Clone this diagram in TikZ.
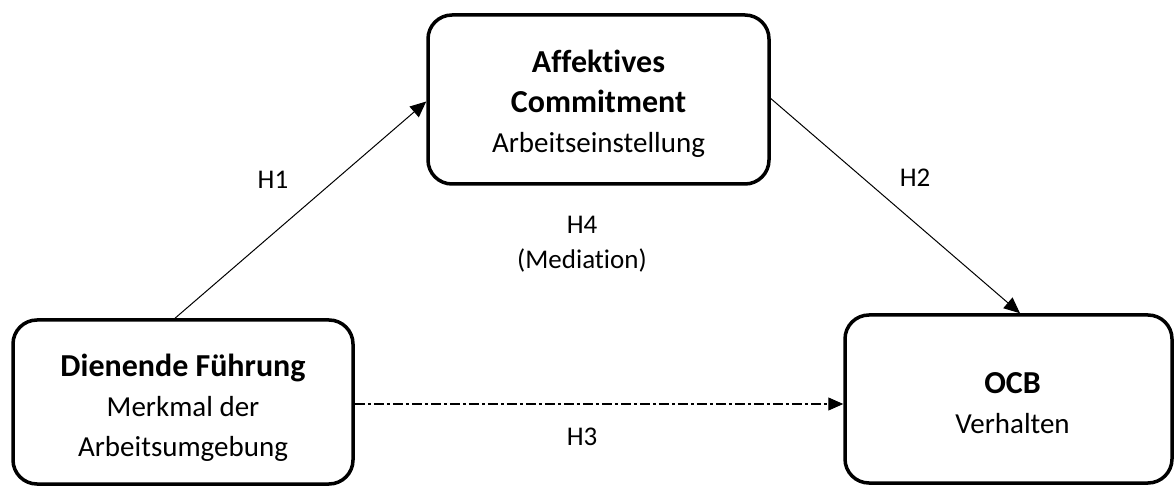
\documentclass[tikz,border=0pt]{standalone}
\usepackage{fontspec}
\setmainfont[Ligatures={NoCommon}]{Carlito}
\usetikzlibrary{arrows.meta}
\newcommand{\hd}[1]{{\fontsize{32}{40}\selectfont\bfseries #1}}
\begin{document}
\begin{tikzpicture}[x=1pt,y=-1pt,
  box/.style={draw=black,line width=3.5pt,rounded corners=24pt,inner sep=0pt},
  boxtext/.style={align=center,inner sep=0pt,font=\fontsize{29}{40}\selectfont},
  conn/.style={line width=1pt,-{Triangle[length=16pt,width=14pt]}},
  dashdot/.style={line width=1.2pt,dash pattern=on 10pt off 3pt on 3pt off 3pt},
  lbl/.style={font=\fontsize{27}{35}\selectfont,align=center,inner sep=0pt}]
\useasboundingbox (0,0) rectangle (1176,486);
\node[box,minimum width=341pt,minimum height=169pt] (tb) at (598.5,99.5) {};
\node[boxtext] (tbt) at ([yshift=-4pt]tb.center)
  {\hd{Affektives}\\\hd{Commitment}\\Arbeitseinstellung};
\node[box,minimum width=340pt,minimum height=164pt] (lb) at (183,402) {};
\node[boxtext] (lbt) at ([yshift=-6pt]lb.center)
  {\hd{Dienende Führung}\\Merkmal der\\Arbeitsumgebung};
\node[box,minimum width=327pt,minimum height=168pt] (ob) at (1008.5,399) {};
\node[boxtext] (obt) at ([xshift=4pt,yshift=-4pt]ob.center)
  {\hd{OCB}\\Verhalten};
\draw[conn] ([xshift=-8pt]lb.north) -- ([yshift=-2pt]tb.west);
\draw[conn] ([yshift=1pt]tb.east) -- ([xshift=11.5pt]ob.north);
\coordinate (h3s) at ([yshift=-2pt]lb.east);
\draw[dashdot,-{Triangle[length=15pt,width=13pt]}] (h3s) -- (h3s -| ob.west);
\node[lbl] (h1) at (273,180) {H1};
\node[lbl] (h2) at (915,178) {H2};
\node[lbl] (h4) at (582,244) {H4\\(Mediation)};
\node[lbl] (h3) at (582,437) {H3};
\end{tikzpicture}
\end{document}
